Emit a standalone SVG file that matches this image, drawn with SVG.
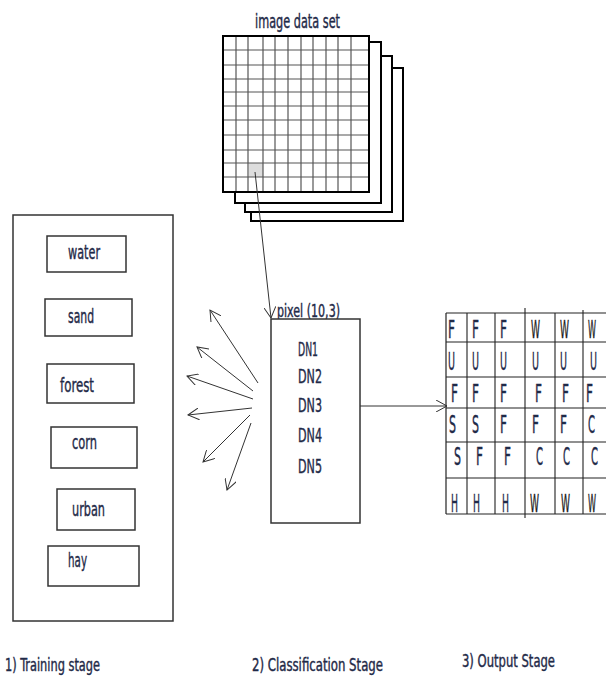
<svg xmlns="http://www.w3.org/2000/svg" width="606" height="677" viewBox="0 0 606 677">
<defs>
<style>
text{font-family:"DejaVu Sans Condensed","Liberation Sans Narrow","Liberation Sans",sans-serif;fill:#1f2a48;stroke:#1f2a48;stroke-width:0.4;}
.lbl{font-size:20px;}
.dn{font-size:20px;}
.g{font-size:25px;}
.cap{font-size:17px;}
.title{font-size:19px;}
.box{fill:#fff;stroke:#333;stroke-width:1.5;}
.layer{fill:#fff;stroke:#000;stroke-width:2;}
.gl{stroke:#555;stroke-width:1.2;}
.conn{stroke:#333;stroke-width:1;fill:none;}
.og{stroke:#222;stroke-width:1.2;}
.ogv{stroke:#666;stroke-width:1.6;}
.w{fill:#1a1a1a;stroke:#1a1a1a;}
</style>
<marker id="ah" viewBox="0 0 12 12" refX="11" refY="6" markerWidth="12" markerHeight="12" markerUnits="userSpaceOnUse" orient="auto">
<path d="M0,0 L11,6 L0,12" fill="none" stroke="#333" stroke-width="1"/>
</marker>
</defs>
<rect width="606" height="677" fill="#fff"/>

<g id="image-data-set">
<text class="title" x="255" y="28" textLength="85" lengthAdjust="spacingAndGlyphs">image data set</text>
<rect class="layer" x="251" y="68" width="152" height="153"/>
<rect class="layer" x="245" y="56" width="147" height="156"/>
<rect class="layer" x="235" y="42" width="146" height="161"/>
<rect class="layer" x="223" y="36" width="146" height="156"/>
<rect x="249" y="163" width="14" height="14" fill="#ddd"/>
<g class="gl">
<line x1="236" y1="36" x2="236" y2="192"/><line x1="248" y1="36" x2="248" y2="192"/><line x1="263" y1="36" x2="263" y2="192"/><line x1="275" y1="36" x2="275" y2="192"/><line x1="288" y1="36" x2="288" y2="192"/><line x1="301" y1="36" x2="301" y2="192"/><line x1="313" y1="36" x2="313" y2="192"/><line x1="326" y1="36" x2="326" y2="192"/><line x1="338" y1="36" x2="338" y2="192"/><line x1="351" y1="36" x2="351" y2="192"/>
<line x1="223" y1="50" x2="369" y2="50"/><line x1="223" y1="65" x2="369" y2="65"/><line x1="223" y1="79" x2="369" y2="79"/><line x1="223" y1="92" x2="369" y2="92"/><line x1="223" y1="106" x2="369" y2="106"/><line x1="223" y1="120" x2="369" y2="120"/><line x1="223" y1="135" x2="369" y2="135"/><line x1="223" y1="150" x2="369" y2="150"/><line x1="223" y1="163" x2="369" y2="163"/><line x1="223" y1="177" x2="369" y2="177"/>
</g>
<rect x="223" y="36" width="146" height="156" fill="none" stroke="#000" stroke-width="2"/>
</g>

<g id="training">
<rect x="13" y="215" width="160" height="406" class="box"/>
<g id="water"><rect x="47" y="236" width="79" height="36" class="box"/><text class="lbl" x="68" y="259" textLength="32" lengthAdjust="spacingAndGlyphs">water</text></g>
<g id="sand"><rect x="45" y="299" width="87" height="37" class="box"/><text class="lbl" x="68" y="323" textLength="26" lengthAdjust="spacingAndGlyphs">sand</text></g>
<g id="forest"><rect x="47" y="364" width="87" height="39" class="box"/><text class="lbl" x="60" y="392" textLength="34" lengthAdjust="spacingAndGlyphs">forest</text></g>
<g id="corn"><rect x="51" y="427" width="86" height="41" class="box"/><text class="lbl" x="72" y="449" textLength="25" lengthAdjust="spacingAndGlyphs">corn</text></g>
<g id="urban"><rect x="57" y="489" width="78" height="41" class="box"/><text class="lbl" x="72" y="516" textLength="33" lengthAdjust="spacingAndGlyphs">urban</text></g>
<g id="hay"><rect x="48" y="546" width="91" height="40" class="box"/><text class="lbl" x="68" y="567" textLength="19" lengthAdjust="spacingAndGlyphs">hay</text></g>
</g>

<g id="pixel">
<text class="cap" x="277" y="317" textLength="63" lengthAdjust="spacingAndGlyphs">pixel (10,3)</text>
<rect x="271" y="319" width="89" height="204" class="box"/>
<text class="dn" x="298" y="356" textLength="20" lengthAdjust="spacingAndGlyphs">DN1</text>
<text class="dn" x="298" y="383" textLength="24" lengthAdjust="spacingAndGlyphs">DN2</text>
<text class="dn" x="298" y="412" textLength="24" lengthAdjust="spacingAndGlyphs">DN3</text>
<text class="dn" x="298" y="442" textLength="24" lengthAdjust="spacingAndGlyphs">DN4</text>
<text class="dn" x="298" y="473" textLength="24" lengthAdjust="spacingAndGlyphs">DN5</text>
</g>

<g id="output">
<g class="ogv">
<line x1="467" y1="313" x2="467" y2="514"/><line x1="495" y1="313" x2="495" y2="514"/><line x1="525" y1="308" x2="525" y2="518"/><line x1="555" y1="313" x2="555" y2="514"/><line x1="583" y1="310" x2="583" y2="514"/>
</g>
<g class="og">
<line x1="446" y1="313" x2="446" y2="514"/>
<line x1="446" y1="313" x2="606" y2="313"/><line x1="446" y1="342" x2="606" y2="342"/><line x1="446" y1="377" x2="606" y2="377"/><line x1="446" y1="408" x2="606" y2="408"/><line x1="446" y1="442" x2="606" y2="442"/><line x1="446" y1="478" x2="606" y2="478"/><line x1="446" y1="514" x2="606" y2="514"/>
</g>
<g class="g">
<text x="448" y="338" textLength="7" lengthAdjust="spacingAndGlyphs">F</text><text x="472" y="338" textLength="7" lengthAdjust="spacingAndGlyphs">F</text><text x="500" y="338" textLength="7" lengthAdjust="spacingAndGlyphs">F</text><text class="w" x="531" y="338" textLength="9" lengthAdjust="spacingAndGlyphs">W</text><text class="w" x="560" y="338" textLength="9" lengthAdjust="spacingAndGlyphs">W</text><text class="w" x="588" y="338" textLength="8" lengthAdjust="spacingAndGlyphs">W</text>
<text x="448" y="370" textLength="7" lengthAdjust="spacingAndGlyphs">U</text><text x="472" y="370" textLength="7" lengthAdjust="spacingAndGlyphs">U</text><text x="500" y="370" textLength="7" lengthAdjust="spacingAndGlyphs">U</text><text x="532" y="370" textLength="7" lengthAdjust="spacingAndGlyphs">U</text><text x="560" y="370" textLength="7" lengthAdjust="spacingAndGlyphs">U</text><text x="590" y="370" textLength="7" lengthAdjust="spacingAndGlyphs">U</text>
<text x="451" y="402" textLength="7" lengthAdjust="spacingAndGlyphs">F</text><text x="472" y="402" textLength="7" lengthAdjust="spacingAndGlyphs">F</text><text x="500" y="402" textLength="7" lengthAdjust="spacingAndGlyphs">F</text><text x="535" y="402" textLength="7" lengthAdjust="spacingAndGlyphs">F</text><text x="562" y="402" textLength="7" lengthAdjust="spacingAndGlyphs">F</text><text x="586" y="402" textLength="7" lengthAdjust="spacingAndGlyphs">F</text>
<text x="449" y="433" textLength="7" lengthAdjust="spacingAndGlyphs">S</text><text x="472" y="433" textLength="7" lengthAdjust="spacingAndGlyphs">S</text><text x="500" y="433" textLength="7" lengthAdjust="spacingAndGlyphs">F</text><text x="532" y="433" textLength="7" lengthAdjust="spacingAndGlyphs">F</text><text x="560" y="433" textLength="7" lengthAdjust="spacingAndGlyphs">F</text><text x="588" y="433" textLength="7" lengthAdjust="spacingAndGlyphs">C</text>
<text x="454" y="465" textLength="7" lengthAdjust="spacingAndGlyphs">S</text><text x="476" y="465" textLength="7" lengthAdjust="spacingAndGlyphs">F</text><text x="504" y="465" textLength="7" lengthAdjust="spacingAndGlyphs">F</text><text x="536" y="465" textLength="7" lengthAdjust="spacingAndGlyphs">C</text><text x="563" y="465" textLength="7" lengthAdjust="spacingAndGlyphs">C</text><text x="591" y="465" textLength="7" lengthAdjust="spacingAndGlyphs">C</text>
<text x="451" y="512" textLength="7" lengthAdjust="spacingAndGlyphs">H</text><text x="473" y="512" textLength="7" lengthAdjust="spacingAndGlyphs">H</text><text x="502" y="512" textLength="7" lengthAdjust="spacingAndGlyphs">H</text><text class="w" x="530" y="512" textLength="9" lengthAdjust="spacingAndGlyphs">W</text><text class="w" x="561" y="512" textLength="9" lengthAdjust="spacingAndGlyphs">W</text><text class="w" x="588" y="512" textLength="8" lengthAdjust="spacingAndGlyphs">W</text>
</g>
</g>

<g id="connectors" class="conn">
<line x1="255" y1="172" x2="271" y2="318" marker-end="url(#ah)"/>
<line x1="258" y1="383" x2="210" y2="310" marker-end="url(#ah)"/>
<line x1="253" y1="391" x2="197" y2="347" marker-end="url(#ah)"/>
<line x1="253" y1="399" x2="187" y2="376" marker-end="url(#ah)"/>
<line x1="252" y1="408" x2="188" y2="415" marker-end="url(#ah)"/>
<line x1="250" y1="415" x2="203" y2="462" marker-end="url(#ah)"/>
<line x1="251" y1="423" x2="227" y2="490" marker-end="url(#ah)"/>
<line x1="360" y1="406" x2="447" y2="406" marker-end="url(#ah)"/>
</g>

<g id="stages">
<text class="cap" x="5" y="671" textLength="95" lengthAdjust="spacingAndGlyphs">1) Training stage</text>
<text class="cap" x="252" y="671" textLength="131" lengthAdjust="spacingAndGlyphs">2) Classification Stage</text>
<text class="cap" x="462" y="667" textLength="93" lengthAdjust="spacingAndGlyphs">3) Output Stage</text>
</g>
</svg>
